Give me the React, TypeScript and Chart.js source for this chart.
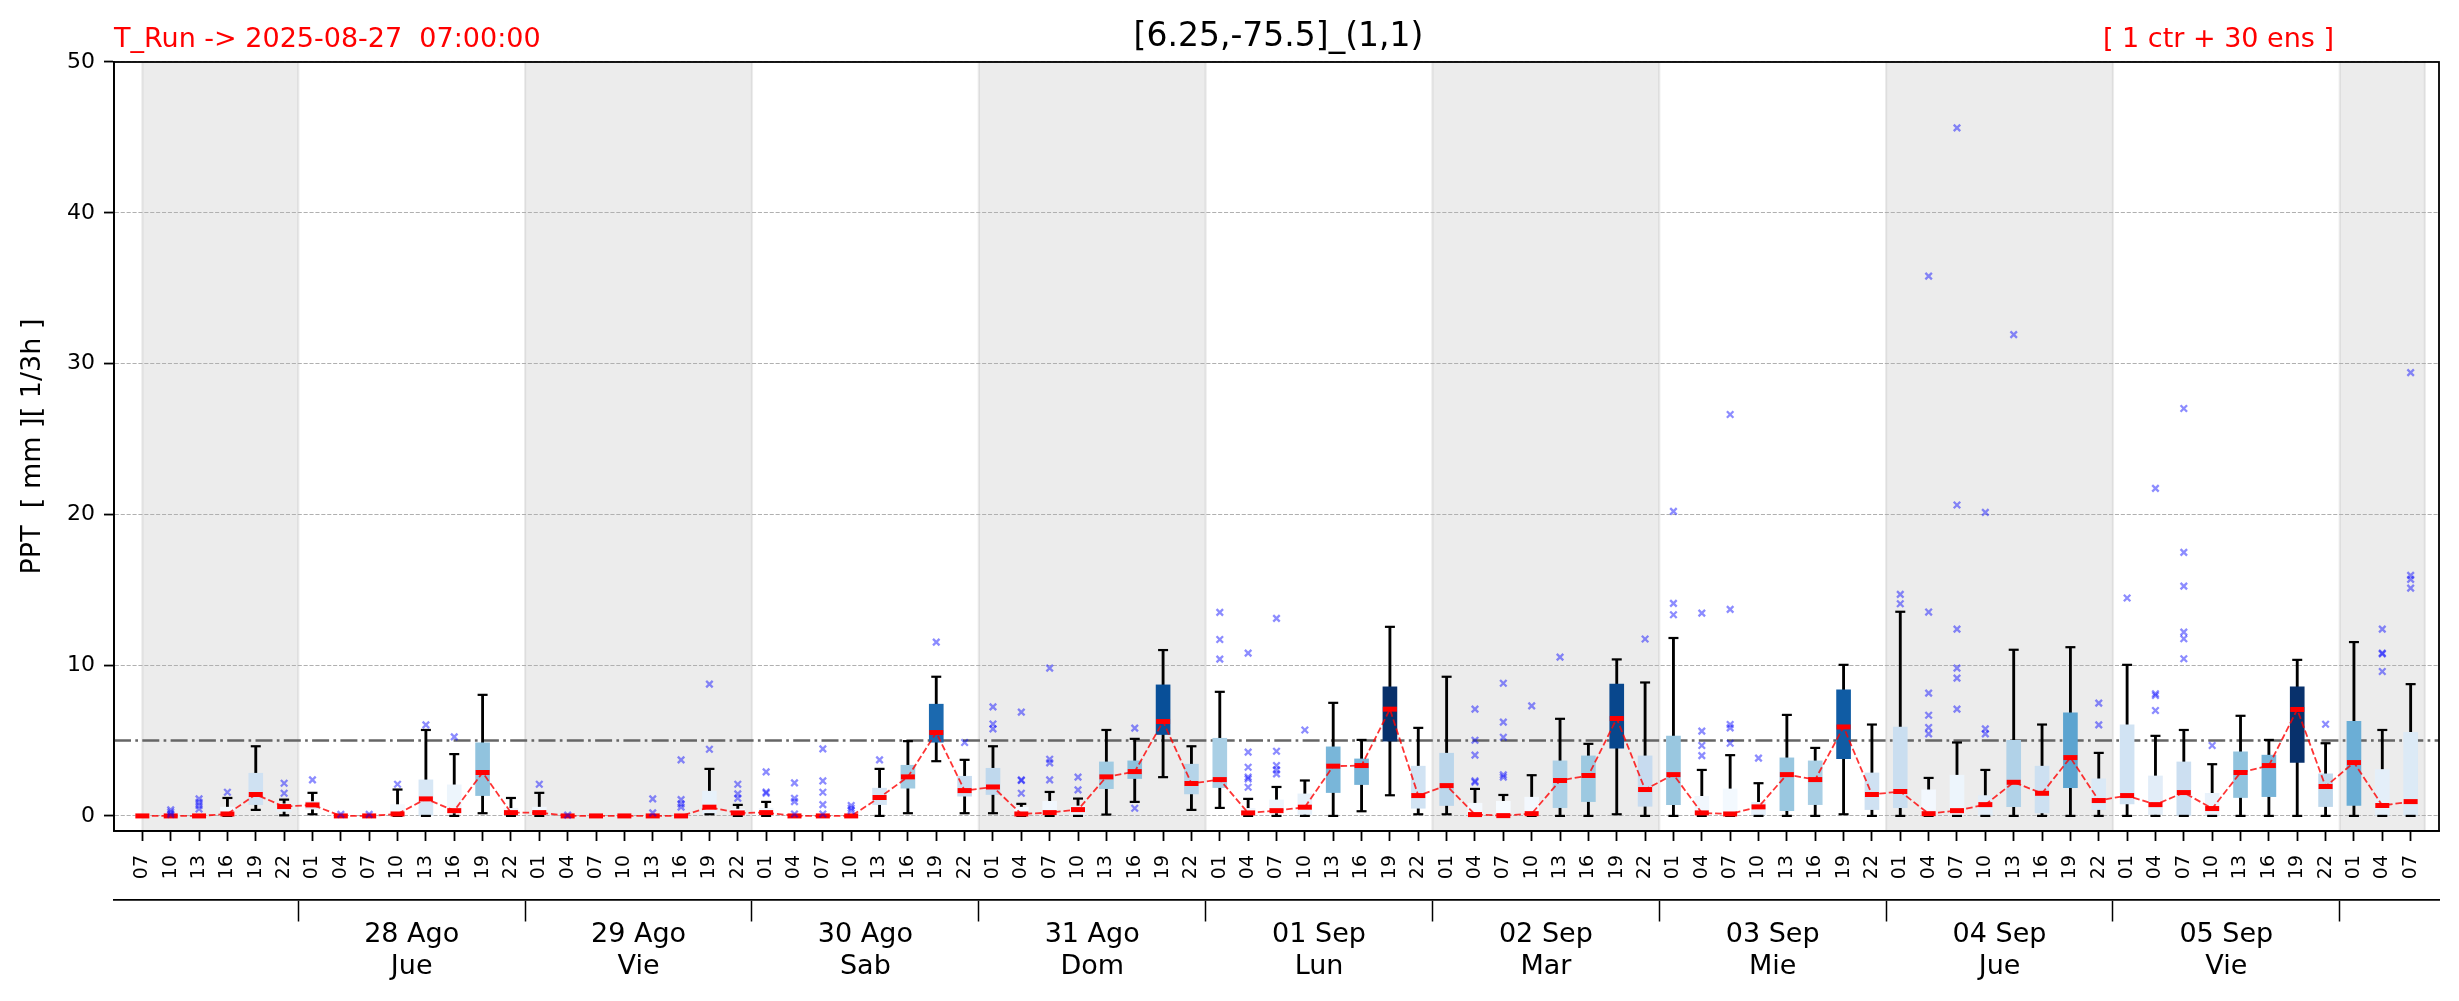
import React, { useEffect, useRef } from 'react';
import { Chart, registerables } from 'chart.js';

Chart.register(...registerables);

const FONT = "'DejaVu Sans', 'Noto Sans', sans-serif";
const TITLE = '[6.25,-75.5]_(1,1)';
const RUN_LABEL = 'T_Run -> 2025-08-27  07:00:00';
const ENS_LABEL = '[ 1 ctr + 30 ens ]';
const Y_TITLE = 'PPT  [ mm ][ 1/3h ]';
const THRESHOLD = 5;
const Y_TICKS = [0, 10, 20, 30, 40, 50];

const HOUR_LABELS = [
  '07', '10', '13', '16', '19', '22',
  '01', '04', '07', '10', '13', '16', '19', '22',
  '01', '04', '07', '10', '13', '16', '19', '22',
  '01', '04', '07', '10', '13', '16', '19', '22',
  '01', '04', '07', '10', '13', '16', '19', '22',
  '01', '04', '07', '10', '13', '16', '19', '22',
  '01', '04', '07', '10', '13', '16', '19', '22',
  '01', '04', '07', '10', '13', '16', '19', '22',
  '01', '04', '07', '10', '13', '16', '19', '22',
  '01', '04', '07', '10', '13', '16', '19', '22',
  '01', '04', '07',
];

const DAY_LABELS = [
  ['28 Ago', 'Jue'], ['29 Ago', 'Vie'], ['30 Ago', 'Sab'], ['31 Ago', 'Dom'],
  ['01 Sep', 'Lun'], ['02 Sep', 'Mar'], ['03 Sep', 'Mie'], ['04 Sep', 'Jue'], ['05 Sep', 'Vie'],
];

const WHISKER_LOW = [
  0, 0, 0, 0, 0.4, 0.04,
  0.11, 0, 0, 0, 0, 0, 0.18, 0,
  0, 0, 0, 0, 0, 0, 0.11, 0,
  0, 0, 0, 0, 0, 0.18, 3.63, 0.18,
  0.18, 0, 0, 0, 0.09, 0.93, 2.57, 0.4,
  0.53, 0, 0, 0, 0, 0.31, 1.37, 0.11,
  0.11, 0, 0, 0, 0, 0, 0.11, 0,
  0, 0, 0, 0, 0, 0, 0.11, 0,
  0, 0, 0, 0, 0, 0, 0, 0,
  0, 0, 0, 0, 0, 0, 0, 0,
  0, 0, 0,
];
const BOX_Q1 = [
  0, 0, 0, 0, 0.75, 0.3,
  0.45, 0, 0, 0, 0, 0.2, 1.35, 0.1,
  0.05, 0, 0, 0, 0, 0, 0.13, 0.05,
  0.05, 0, 0, 0, 0.75, 1.84, 4.89, 1.31,
  1.42, 0, 0, 0, 1.81, 2.48, 5.4, 1.46,
  1.88, 0, 0.2, 0.1, 1.55, 2.08, 4.96, 0.51,
  0.69, 0, 0, 0, 0.55, 0.95, 4.49, 0.64,
  0.75, 0.05, 0, 0.07, 0.35, 0.75, 3.8, 0.42,
  0.55, 0, 0, 0, 0.62, 0.2, 1.88, 0.42,
  0.8, 0.09, 0, 0, 1.22, 1.28, 3.54, 0.62,
  0.69, 0, 0,
];
const MEDIAN = [
  0, 0, 0, 0.13, 1.42, 0.62,
  0.73, 0, 0, 0.13, 1.13, 0.35, 2.88, 0.22,
  0.22, 0, 0, 0, 0, 0, 0.58, 0.2,
  0.22, 0, 0, 0, 1.22, 2.59, 5.53, 1.68,
  1.92, 0.13, 0.22, 0.42, 2.59, 2.94, 6.26, 2.15,
  2.41, 0.2, 0.35, 0.58, 3.3, 3.34, 7.08, 1.35,
  2.01, 0.09, 0.02, 0.15, 2.35, 2.68, 6.46, 1.75,
  2.74, 0.2, 0.13, 0.6, 2.74, 2.41, 5.9, 1.42,
  1.62, 0.15, 0.35, 0.75, 2.23, 1.5, 3.87, 1.02,
  1.35, 0.75, 1.55, 0.49, 2.88, 3.34, 7.06, 1.95,
  3.54, 0.69, 0.95,
];
const BOX_Q3 = [
  0, 0, 0, 0.58, 2.83, 0.8,
  0.95, 0, 0, 0.75, 2.39, 2.06, 4.85, 0.5,
  0.58, 0, 0, 0, 0, 0, 1.64, 0.45,
  0.5, 0, 0, 0, 1.84, 3.36, 7.41, 2.63,
  3.16, 0.58, 0.97, 0.66, 3.58, 3.65, 8.69, 3.43,
  5.15, 0.5, 1.06, 1.46, 4.58, 3.78, 8.56, 3.3,
  4.16, 0.84, 0.97, 1.24, 3.65, 3.98, 8.74, 3.98,
  5.29, 1.3, 1.79, 0.9, 3.85, 3.65, 8.36, 2.85,
  5.9, 1.73, 2.7, 1.35, 5.02, 3.3, 6.84, 2.46,
  6.04, 2.65, 3.58, 1.5, 4.25, 4.03, 8.56, 2.79,
  6.28, 3.08, 5.55,
];
const WHISKER_HIGH = [
  0, 0, 0, 1.19, 4.62, 1.08,
  1.53, 0, 0, 1.75, 5.7, 4.1, 8.03, 1.19,
  1.53, 0, 0, 0, 0, 0, 3.12, 0.73,
  0.93, 0, 0, 0, 3.12, 4.96, 9.23, 3.72,
  4.62, 0.8, 1.59, 1.15, 5.7, 5.11, 11.0, 4.62,
  8.23, 1.13, 1.92, 2.35, 7.5, 5.04, 12.54, 5.84,
  9.23, 1.79, 1.39, 2.7, 6.44, 4.78, 10.38, 8.85,
  11.8, 3.05, 4.03, 2.17, 6.7, 4.51, 10.02, 6.06,
  13.54, 2.52, 4.87, 3.05, 11.02, 6.06, 11.19, 4.18,
  10.02, 5.31, 5.7, 3.43, 6.64, 5.04, 10.35, 4.82,
  11.53, 5.7, 8.74,
];
const OUTLIERS = [
  [], [0.4, 0.25, 0.1], [1.13, 0.9, 0.69, 0.46], [1.57], [], [2.17, 1.5],
  [2.39], [0.1], [0.1], [2.1], [6.04], [5.24], [], [],
  [2.1], [0.05], [], [], [1.13, 0.2], [3.72, 1.08, 0.8, 0.58], [8.74, 4.42], [2.1, 1.46, 1.17],
  [2.92, 1.59, 1.5], [2.19, 1.17, 0.95, 0.13], [4.45, 2.32, 1.57, 0.75, 0.13], [0.69, 0.51, 0.35], [3.72], [], [11.53], [4.87],
  [7.23, 6.1, 5.77], [6.88, 2.39, 2.35, 1.5], [9.8, 3.76, 3.52, 2.39], [2.57, 1.73], [], [5.82, 0.51], [], [],
  [13.5, 11.7, 10.4], [10.8, 4.23, 3.23, 2.57, 2.46, 1.9], [13.1, 4.29, 3.34, 3.05, 2.79], [5.7], [], [], [], [],
  [], [7.08, 5.02, 4.03, 2.32, 2.23], [8.8, 6.22, 5.22, 2.72, 2.57], [7.3], [10.53], [], [], [11.73],
  [20.2, 14.1, 13.34], [13.45, 5.62, 4.67, 4.0], [26.62, 13.7, 6.06, 5.84, 4.82], [3.83], [], [], [], [],
  [14.69, 14.07], [35.8, 13.52, 8.14, 6.68, 5.86, 5.44], [45.63, 20.62, 12.39, 9.8, 9.14, 7.08], [20.13, 5.77, 5.44], [31.92], [], [], [7.48, 6.04],
  [14.45], [21.72, 8.1, 7.99, 6.99], [27.02, 17.48, 15.24, 12.19, 11.75, 10.42], [4.67], [], [], [], [6.08],
  [], [12.39, 10.8, 10.75, 9.58], [29.4, 15.95, 15.69, 15.11],
];

// matplotlib "Blues" colormap anchors
const BLUES = [
  [247, 251, 255], [222, 235, 247], [198, 219, 239], [158, 202, 225], [107, 174, 214],
  [66, 146, 198], [33, 113, 181], [8, 81, 156], [8, 48, 107],
];
function blues(t: number): string {
  const c = Math.max(0, Math.min(1, t)) * (BLUES.length - 1);
  const i = Math.min(Math.floor(c), BLUES.length - 2);
  const f = c - i;
  const a = BLUES[i], b = BLUES[i + 1];
  const m = (k: number) => Math.round(a[k] + (b[k] - a[k]) * f);
  return `rgb(${m(0)},${m(1)},${m(2)})`;
}

export default function App() {
  const ref = useRef<HTMLCanvasElement>(null);

  useEffect(() => {
    document.body.style.margin = '0';
    document.body.style.overflow = 'hidden';
    const canvas = ref.current;
    if (!canvas) return;

    const idx = HOUR_LABELS.map((_, i) => i);
    const lastIdx = idx.length - 1;
    const maxMed = Math.max(...MEDIAN);
    const boxColors = MEDIAN.map((m) => blues(m / maxMed));
    const seps = idx.filter((i) => HOUR_LABELS[i] === '01').map((i) => i - 0.5);
    const dayCenters = seps.slice(0, -1).map((s, k) => (s + seps[k + 1]) / 2);
    const bounds = [0, ...seps, lastIdx + 0.5];
    const bands: number[][] = [];
    for (let k = 0; k < bounds.length - 1; k += 2) bands.push([bounds[k], bounds[k + 1]]);

    const decorations = {
      id: 'decorations',
      beforeDraw(chart: any) {
        const { ctx, chartArea: a, scales } = chart;
        const xs = scales.x;
        ctx.save();
        ctx.fillStyle = 'rgba(128,128,128,0.15)';
        ctx.strokeStyle = 'rgba(128,128,128,0.15)';
        ctx.lineWidth = 2.2;
        for (const [s, e] of bands) {
          const x1 = xs.getPixelForValue(s);
          const x2 = Math.min(xs.getPixelForValue(e), a.right);
          ctx.fillRect(x1, a.top, x2 - x1, a.bottom - a.top);
          ctx.beginPath();
          ctx.moveTo(x1, a.top); ctx.lineTo(x1, a.bottom);
          ctx.moveTo(x2, a.top); ctx.lineTo(x2, a.bottom);
          ctx.stroke();
        }
        ctx.restore();
      },
      beforeDatasetsDraw(chart: any) {
        const { ctx, chartArea: a, scales } = chart;
        const y = scales.y.getPixelForValue(THRESHOLD);
        ctx.save();
        ctx.strokeStyle = '#666666';
        ctx.lineWidth = 2.5;
        ctx.setLineDash([17, 4.3, 2.7, 4.3]);
        ctx.beginPath();
        ctx.moveTo(a.left, y);
        ctx.lineTo(a.right, y);
        ctx.stroke();
        ctx.restore();
      },
      afterDraw(chart: any) {
        const { ctx, chartArea: a } = chart;
        ctx.save();
        ctx.strokeStyle = '#000';
        ctx.lineWidth = 1.8;
        ctx.strokeRect(a.left, a.top, a.right - a.left, a.bottom - a.top);
        ctx.textBaseline = 'alphabetic';
        ctx.fillStyle = '#000';
        ctx.font = `33px ${FONT}`;
        ctx.textAlign = 'center';
        ctx.fillText(TITLE, (a.left + a.right) / 2 + 2, 46);
        ctx.fillStyle = '#ff0000';
        ctx.font = `27px ${FONT}`;
        ctx.textAlign = 'left';
        ctx.fillText(RUN_LABEL, a.left, 47);
        ctx.textAlign = 'right';
        ctx.fillText(ENS_LABEL, a.right - 105, 47);
        ctx.restore();
      },
    };

    const datasets: any[] = [
      {
        type: 'bar',
        data: idx.map((i) => ({ x: i, y: [WHISKER_LOW[i], WHISKER_HIGH[i]] })),
        backgroundColor: '#000000',
        borderWidth: 0,
        barThickness: 2.2,
        grouped: false,
        order: 6,
      },
      {
        type: 'bar',
        data: idx.map((i) => ({ x: i, y: [BOX_Q1[i], BOX_Q3[i]] })),
        backgroundColor: boxColors,
        borderWidth: 0,
        barThickness: 14,
        grouped: false,
        order: 5,
      },
      {
        type: 'line',
        data: idx.flatMap((i) => [{ x: i, y: WHISKER_LOW[i] }, { x: i, y: WHISKER_HIGH[i] }]),
        showLine: false,
        pointStyle: 'line',
        pointRadius: 5,
        pointBorderWidth: 2.2,
        pointBorderColor: '#000000',
        order: 4,
      },
      {
        type: 'line',
        data: idx.map((i) => ({ x: i, y: MEDIAN[i] })),
        borderColor: 'rgba(255,0,0,0.8)',
        borderWidth: 1.8,
        borderDash: [6.6, 2.9],
        pointRadius: 0,
        fill: false,
        tension: 0,
        order: 3,
      },
      {
        type: 'line',
        data: idx.map((i) => ({ x: i, y: MEDIAN[i] })),
        showLine: false,
        pointStyle: 'line',
        pointRadius: 7,
        pointBorderWidth: 5,
        pointBorderColor: '#ff0000',
        order: 2,
      },
      {
        type: 'line',
        data: idx.flatMap((i) => OUTLIERS[i].map((v) => ({ x: i, y: v }))),
        showLine: false,
        pointStyle: 'crossRot',
        pointRadius: 4.6,
        pointBorderWidth: 2.3,
        pointBorderColor: 'rgba(0,0,255,0.45)',
        order: 1,
      },
    ];

    const sepSet = new Set(seps);

    const chart = new Chart(canvas, {
      type: 'bar',
      data: { datasets },
      plugins: [decorations],
      options: {
        animation: false,
        responsive: false,
        devicePixelRatio: 1,
        events: [],
        layout: { padding: { top: 62, right: 20, left: 0, bottom: 0 } },
        plugins: { legend: { display: false }, tooltip: { enabled: false }, title: { display: false } },
        scales: {
          x: {
            type: 'linear',
            position: 'bottom',
            min: -1,
            max: lastIdx + 1,
            offset: false,
            weight: 1,
            afterBuildTicks: (s: any) => { s.ticks = idx.map((i) => ({ value: i })); },
            afterFit: (s: any) => { s.height = 69; },
            grid: {
              display: true,
              drawOnChartArea: false,
              drawTicks: true,
              offset: false,
              tickLength: 10,
              tickWidth: 1.8,
              tickColor: '#000000',
              color: 'rgba(0,0,0,0)',
            },
            border: { display: true, color: '#000000', width: 1.8 },
            ticks: {
              autoSkip: false,
              minRotation: 90,
              maxRotation: 90,
              padding: 14,
              color: '#000000',
              font: { family: FONT, size: 19 },
              callback: (v: any) => HOUR_LABELS[v] ?? '',
            },
          },
          x2: {
            type: 'linear',
            position: 'bottom',
            min: -1,
            max: lastIdx + 1,
            offset: false,
            weight: 2,
            afterBuildTicks: (s: any) => {
              s.ticks = [...seps, ...dayCenters].sort((p, q) => p - q).map((v) => ({ value: v }));
            },
            afterFit: (s: any) => { s.height = 101; },
            grid: {
              display: true,
              drawOnChartArea: false,
              drawTicks: true,
              offset: false,
              tickLength: 21.5,
              tickWidth: 1.5,
              tickColor: (c: any) => (c.tick && sepSet.has(c.tick.value) ? '#000000' : 'rgba(0,0,0,0)'),
              color: 'rgba(0,0,0,0)',
            },
            border: { display: true, color: '#000000', width: 1.8 },
            ticks: {
              autoSkip: false,
              minRotation: 0,
              maxRotation: 0,
              padding: -3,
              color: '#000000',
              font: { family: FONT, size: 27, lineHeight: 1.2 },
              callback: (v: any) => {
                const k = dayCenters.indexOf(v);
                return k >= 0 ? DAY_LABELS[k] : '';
              },
            },
          },
          y: {
            type: 'linear',
            position: 'left',
            min: -1,
            max: 50,
            afterBuildTicks: (s: any) => { s.ticks = Y_TICKS.map((v) => ({ value: v })); },
            afterFit: (s: any) => { s.width = 114; },
            grid: {
              color: '#b0b0b0',
              lineWidth: 1.1,
              drawTicks: true,
              tickLength: 10,
              tickWidth: 1.8,
              tickColor: '#000000',
            },
            border: { display: true, color: '#000000', width: 1.8, dash: [4.1, 1.8] },
            ticks: { padding: 9, color: '#000000', font: { family: FONT, size: 22 } },
            title: {
              display: true,
              text: Y_TITLE,
              color: '#000000',
              font: { family: FONT, size: 27 },
              padding: { top: 17, bottom: 0 },
            },
          },
        },
      } as any,
    });

    return () => chart.destroy();
  }, []);

  return (
    <div style={{ width: 2459, height: 1001 }}>
      <canvas ref={ref} width={2459} height={1001} style={{ display: 'block' }} />
    </div>
  );
}
